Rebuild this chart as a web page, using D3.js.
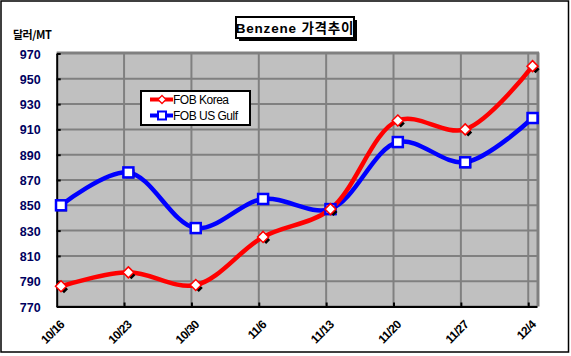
<!DOCTYPE html>
<html><head><meta charset="utf-8">
<script src="https://cdn.jsdelivr.net/npm/d3@7"></script>
<style>body{margin:0;background:#fff}svg{display:block}</style>
</head><body>
<script>
const categories = ["10/16","10/23","10/30","11/6","11/13","11/20","11/27","12/4"];
const korea = [786, 797, 787, 825, 847, 917, 910, 960];
const usGulf = [850, 876, 832, 855, 847, 900, 884, 919];
const yTicks = [770, 790, 810, 830, 850, 870, 890, 910, 930, 950, 970];
const seriesNames = ["FOB Korea", "FOB US Gulf"];
const titleText = "Benzene 가격추이";
const yUnit = "달러/MT";

const W = 571, H = 356;
const svg = d3.select("body").append("svg").attr("width", W).attr("height", H);
svg.append("rect").attr("x", 1).attr("y", 1).attr("width", 567.5).attr("height", 351).attr("fill", "#fff").attr("stroke", "#000").attr("stroke-width", 1.5);

const pl = 56.7, pr = 537, pt = 53.5, pb = 306.5;
const x = d3.scaleLinear().domain([-0.064, 7.066]).range([pl, pr]);
const y = d3.scaleLinear().domain([770, 970]).range([pb, pt]);

// plot area
svg.append("rect").attr("x", pl).attr("y", pt).attr("width", pr - pl).attr("height", pb - pt).attr("fill", "#c0c0c0");
// horizontal gridlines
svg.append("g").selectAll("line").data(yTicks).join("line")
  .attr("x1", pl).attr("x2", pr).attr("y1", d => y(d)).attr("y2", d => y(d))
  .attr("stroke", "#808080").attr("stroke-width", 2);
// vertical gridlines (between categories)
const vgrid = d3.range(categories.length).map(i => i - 0.064);
svg.append("g").selectAll("line").data(vgrid.slice(1)).join("line")
  .attr("x1", d => x(d)).attr("x2", d => x(d)).attr("y1", pt).attr("y2", pb)
  .attr("stroke", "#808080").attr("stroke-width", 2);
// right border of plot
svg.append("line").attr("x1", pr + 1).attr("x2", pr + 1).attr("y1", pt - 1).attr("y2", pb).attr("stroke", "#808080").attr("stroke-width", 3);
svg.append("line").attr("x1", pl).attr("x2", pr + 2).attr("y1", pt - 1).attr("y2", pt - 1).attr("stroke", "#808080").attr("stroke-width", 2);

// axes lines
const yAxis = d3.axisLeft(y).tickValues(yTicks).tickSize(4).tickSizeOuter(0).tickPadding(12);
const gy = svg.append("g").attr("transform", `translate(${pl},0)`).call(yAxis);
gy.select(".domain").attr("stroke", "#000").attr("stroke-width", 2);
gy.selectAll(".tick line").attr("stroke", "#000").attr("stroke-width", 2).attr("transform", "translate(4,0)");
gy.selectAll(".tick text").attr("font-family", "Liberation Sans, Arial, sans-serif").attr("font-weight", "bold")
  .attr("font-size", 12.5).attr("fill", "#000060").attr("dy", "0.36em");

const xAxis = d3.axisBottom(x).tickValues(vgrid.slice(1)).tickSize(4).tickSizeOuter(0).tickFormat("");
const gx = svg.append("g").attr("transform", `translate(0,${pb})`).call(xAxis);
gx.select(".domain").attr("stroke", "#000").attr("stroke-width", 2);
gx.selectAll(".tick line").attr("stroke", "#000").attr("stroke-width", 2).attr("transform", "translate(0,-4)");

// x labels
svg.append("g").selectAll("text").data(categories).join("text")
  .attr("transform", (d, i) => `translate(${x(i) + 4},${pb + 19}) rotate(-45)`)
  .attr("text-anchor", "end")
  .attr("font-family", "Liberation Sans, Arial, sans-serif").attr("font-weight", "bold").attr("font-size", 12)
  .attr("letter-spacing", -0.6).attr("fill", "#000").text(d => d);

// lines
const line = d3.line().x((d, i) => x(i)).y(d => y(d)).curve(d3.curveCatmullRom.alpha(0.5));
svg.append("path").datum(usGulf).attr("d", line).attr("fill", "none").attr("stroke", "#0000ff").attr("stroke-width", 4.5);
svg.append("path").datum(korea).attr("d", line).attr("fill", "none").attr("stroke", "#ff0000").attr("stroke-width", 4.5);

function diamond(g, cx, cy, s) {
  return g.append("path").attr("d", `M${cx},${cy - s}L${cx + s},${cy}L${cx},${cy + s}L${cx - s},${cy}Z`);
}
// markers US Gulf
usGulf.forEach((v, i) => {
  const cx = x(i), cy = y(v);
  svg.append("rect").attr("x", cx - 3).attr("y", cy - 3).attr("width", 9).attr("height", 9).attr("fill", "#000");
  svg.append("rect").attr("x", cx - 5).attr("y", cy - 5).attr("width", 10).attr("height", 10)
    .attr("fill", "#fff").attr("stroke", "#0000ff").attr("stroke-width", 2.5);
});
korea.forEach((v, i) => {
  const cx = x(i), cy = y(v);
  diamond(svg, cx + 3, cy + 3, 4).attr("fill", "#000");
  diamond(svg, cx, cy, 5.5).attr("fill", "#fff").attr("stroke", "#ff0000").attr("stroke-width", 1.5);
});

// legend
const lg = svg.append("g");
lg.append("rect").attr("x", 141).attr("y", 91).attr("width", 109).attr("height", 34).attr("fill", "#fff").attr("stroke", "#000").attr("stroke-width", 2);
const legendColors = ["#ff0000", "#0000ff"];
seriesNames.forEach((n, k) => {
  const ly = 99.5 + k * 16;
  lg.append("line").attr("x1", 150).attr("x2", 173).attr("y1", ly).attr("y2", ly).attr("stroke", legendColors[k]).attr("stroke-width", 4);
  if (k === 0) diamond(lg, 162, ly, 4).attr("fill", "#fff").attr("stroke", "#ff0000").attr("stroke-width", 1.3);
  else lg.append("rect").attr("x", 158).attr("y", ly - 4).attr("width", 8).attr("height", 8).attr("fill", "#fff").attr("stroke", "#0000ff").attr("stroke-width", 2);
  lg.append("text").attr("x", 173).attr("y", ly + 4.5).attr("font-family", "Liberation Sans, Arial, sans-serif")
    .attr("font-size", 12).attr("letter-spacing", -0.5).attr("fill", "#000").text(n);
});

// title
svg.append("rect").attr("x", 239).attr("y", 20).attr("width", 118).attr("height", 21).attr("fill", "#000");
svg.append("rect").attr("x", 236).attr("y", 17).attr("width", 118).attr("height", 21).attr("fill", "#fff").attr("stroke", "#000").attr("stroke-width", 2);
svg.append("text").attr("x", 295).attr("y", 32.5).attr("text-anchor", "middle")
  .attr("font-family", "Liberation Sans, 'Noto Sans CJK KR', sans-serif").attr("font-weight", "bold").attr("font-size", 13.5)
  .attr("letter-spacing", 0.8).text(titleText);

// y unit
svg.append("text").attr("x", 13).attr("y", 39).attr("font-family", "'Noto Sans CJK KR', Liberation Sans, sans-serif")
  .attr("font-weight", "bold").attr("font-size", 11).attr("letter-spacing", -0.5).text(yUnit);
</script>
</body></html>
